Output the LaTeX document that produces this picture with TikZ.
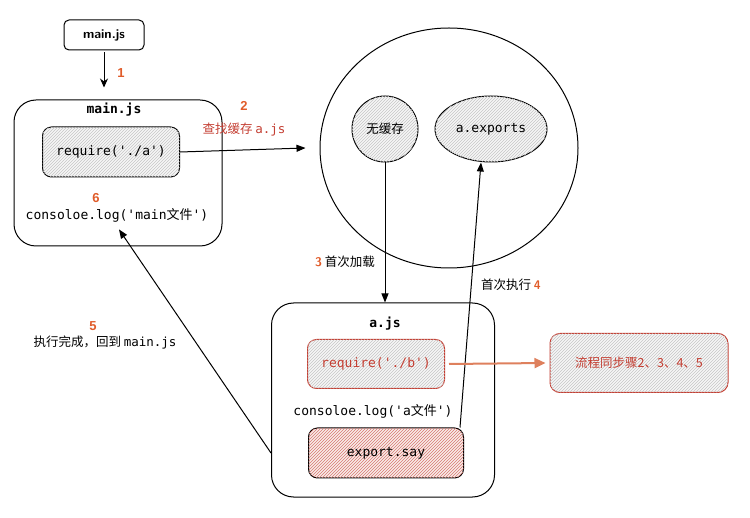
\documentclass[tikz,border=0pt]{standalone}
\usepackage{fontspec}
\setmainfont{Liberation Sans}
\newfontfamily\cjk{Noto Sans CJK SC}
\newfontfamily\mono{DejaVu Sans Mono}
\usetikzlibrary{arrows.meta, patterns, shapes.geometric}
\definecolor{rednote}{RGB}{196,62,50}
\definecolor{stepnum}{RGB}{224,92,42}
\definecolor{flowor}{RGB}{214,96,52}
\newcommand{\zh}[1]{{\cjk #1}}

\begin{document}
\begin{tikzpicture}[
    x=1pt, y=-1pt,
    file/.style={draw, line width=1pt, rounded corners=22pt},
    code/.style={draw, line width=1pt, rounded corners=9pt, font=\mono\fontsize{13}{15}\selectfont},
    hatch/.style={fill=gray!7, postaction={pattern=north east lines, pattern color=gray!45}},
    redhatch/.style={fill=rednote!10, postaction={pattern=north east lines, pattern color=rednote!70}},
    txt/.style={font=\mono\fontsize{13}{15}\selectfont},
    num/.style={text=stepnum, font=\bfseries\fontsize{13}{15}\selectfont},
    lbl/.style={font=\cjk\fontsize{12.5}{15}\selectfont},
    fl/.style={-{Triangle[length=9pt, width=7pt]}, line width=1pt},
    ofl/.style={-{Triangle[length=11pt, width=10pt]}, line width=2pt, draw=flowor!80, fill=flowor}
  ]
    \useasboundingbox (0,0) rectangle (750,518);

    % --- main.js ---
    \node[draw, line width=1pt, rounded corners=5pt, minimum width=80, minimum height=30,
      font=\sffamily\bfseries\fontsize{13}{15}\selectfont] (entry) at (104,35) {main.js};
    \node[file, minimum width=208, minimum height=146] (mainjs) at (118,173) {};
    \node[txt, font=\mono\bfseries\fontsize{13}{15}\selectfont] (maintitle) at (114,110) {main.js};
    \node[code, hatch, minimum width=137, minimum height=50] (reqa) at (111,152) {require('./a')};
    \node[num] (n6) at (96,198) {6};
    \node[txt] (mainlog) at (117,215) {consoloe.log('main\zh{文件}')};

    \draw[-{Stealth[length=9pt, width=8pt]}, line width=1pt] ([yshift=-2pt]entry.south) -- ([yshift=12pt]entry.south |- mainjs.north);
    \node[num] (n1) at (121,73) {1};

    % --- 缓存 ---
    \node[ellipse, draw, line width=1pt, minimum width=258, minimum height=240] (cache) at (449,148) {};
    \node[circle, draw, line width=1pt, hatch, minimum size=66, inner sep=0pt, lbl] (nocache) at (385,129) {无缓存};
    \node[ellipse, draw, line width=1pt, hatch, minimum width=112, minimum height=66, inner sep=0pt, txt] (aexp) at (491,129) {a.exports};

    \draw[fl] (reqa.east) -- ([xshift=-14pt]cache.west);
    \node[num] (n2) at (244,106) {2};
    \node[lbl, text=rednote] (l2) at (244,130) {查找缓存 {\mono a.js}};

    % --- a.js ---
    \node[file, minimum width=223, minimum height=194] (ajs) at (383,400) {};
    \node[txt, font=\mono\bfseries\fontsize{13}{15}\selectfont] (atitle) at (385,324) {a.js};
    \node[code, draw=rednote, hatch, text=rednote, minimum width=137, minimum height=49] (reqb) at (376,364) {require('./b')};
    \node[txt] (alog) at (373,411) {consoloe.log('a\zh{文件}')};
    \node[code, redhatch, minimum width=155, minimum height=50] (say) at (386,453) {export.say};

    \draw[fl] (nocache.south) -- (nocache.south |- ajs.north);
    \node[lbl] (l3) at (345,262) {{\color{stepnum}\sffamily\bfseries 3} 首次加载};

    \draw[fl] ([xshift=-4pt]say.north east) -- ([xshift=-10pt]aexp.south);
    \node[lbl] (l4) at (511,285) {首次执行 {\color{stepnum}\sffamily\bfseries 4}};

    % --- b.js ---
    \node[draw=rednote, line width=1pt, rounded corners=10pt, hatch, minimum width=178, minimum height=59,
      text=rednote, lbl] (sync) at (639,363) {流程同步骤2、3、4、5};
    \draw[ofl] ([xshift=4pt]reqb.east) -- ([xshift=-4pt]sync.west);

    % --- 回到 main.js ---
    \draw[fl] (ajs.west |- say.center) -- ([xshift=2pt, yshift=-4pt]mainlog.south);
    \node[num] (n5) at (93,326) {5};
    \node[lbl] (l5) at (105,342) {执行完成，回到 {\mono main.js}};
  \end{tikzpicture}
\end{document}
